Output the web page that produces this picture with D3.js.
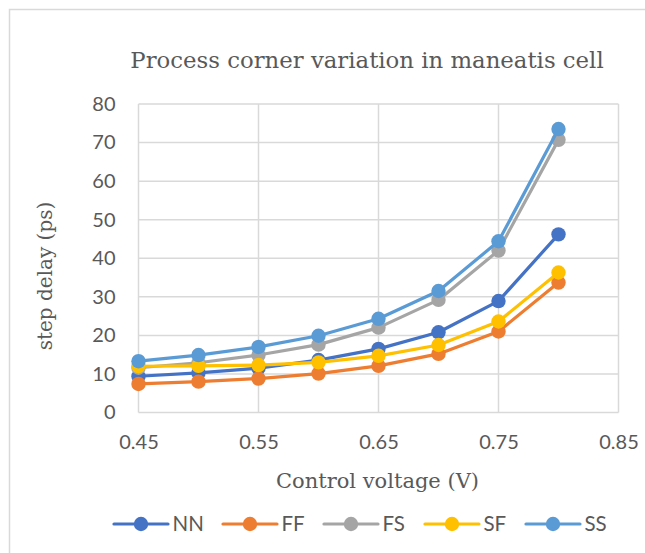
<!DOCTYPE html>
<html>
<head>
<meta charset="utf-8">
<script src="https://cdn.jsdelivr.net/npm/d3@7"></script>
<style>
  html, body { margin: 0; padding: 0; background: #fff; }
  svg { display: block; }
</style>
</head>
<body>
<svg id="chart" width="645" height="553"></svg>
<script>
// Control voltage sweep (V)
const voltages = [0.45, 0.5, 0.55, 0.6, 0.65, 0.7, 0.75, 0.8];

// Step delay (ps) per process corner
const seriesNames = ["NN", "FF", "FS", "SF", "SS"];
const nnDelay = [9.4, 10.3, 11.5, 13.6, 16.5, 20.8, 28.9, 46.2];
const ffDelay = [7.4, 8.0, 8.8, 10.1, 12.1, 15.2, 21.0, 33.7];
const fsDelay = [11.6, 12.9, 14.9, 17.6, 22.0, 29.2, 42.0, 70.7];
const sfDelay = [12.0, 12.1, 12.3, 13.0, 14.7, 17.5, 23.6, 36.3];
const ssDelay = [13.3, 14.9, 17.0, 19.9, 24.3, 31.5, 44.4, 73.5];
const seriesColors = ["#4472C4", "#ED7D31", "#A5A5A5", "#FFC000", "#5B9BD5"];

const xTicks = [0.45, 0.55, 0.65, 0.75, 0.85];
const yTicks = [0, 10, 20, 30, 40, 50, 60, 70, 80];

const series = [nnDelay, ffDelay, fsDelay, sfDelay, ssDelay].map((vals, i) => ({
  name: seriesNames[i],
  color: seriesColors[i],
  points: vals.map((v, j) => ({ x: voltages[j], y: v }))
}));

const svg = d3.select("#chart");
const W = 645, H = 553;
const plot = { left: 138.5, right: 618.5, top: 104, bottom: 412.5 };

const serif = "'DejaVu Serif', Georgia, serif";
const sans = "Lato, 'Open Sans', sans-serif";
const textColor = "#595959";

// Chart area frame
svg.append("rect")
  .attr("x", 9.5).attr("y", 9.5)
  .attr("width", W + 20).attr("height", H + 20)
  .attr("fill", "#fff")
  .attr("stroke", "#d9d9d9").attr("stroke-width", 1.5);

const x = d3.scaleLinear().domain([0.45, 0.85]).range([plot.left, plot.right]);
const y = d3.scaleLinear().domain([0, 80]).range([plot.bottom, plot.top]);

// Gridlines
const grid = svg.append("g");
grid.selectAll("line.h").data(yTicks).join("line")
  .attr("x1", plot.left).attr("x2", plot.right)
  .attr("y1", d => y(d)).attr("y2", d => y(d))
  .attr("stroke", "#d9d9d9").attr("stroke-width", 1.5);
grid.selectAll("line.v").data(xTicks).join("line")
  .attr("y1", plot.top).attr("y2", plot.bottom)
  .attr("x1", d => x(d)).attr("x2", d => x(d))
  .attr("stroke", "#d9d9d9").attr("stroke-width", 1.5);

// Axes (labels only; the gridlines act as the axis lines)
const yAxis = d3.axisLeft(y).tickValues(yTicks).tickSize(0).tickPadding(23);
const yG = svg.append("g").attr("transform", `translate(${plot.left},0)`).call(yAxis);
yG.select(".domain").remove();
yG.selectAll("text").attr("font-family", sans).attr("font-size", 20).attr("fill", textColor);

const xAxis = d3.axisBottom(x).tickValues(xTicks).tickSize(0).tickPadding(22)
  .tickFormat(d3.format(".2f"));
const xG = svg.append("g").attr("transform", `translate(0,${plot.bottom})`).call(xAxis);
xG.select(".domain").remove();
xG.selectAll("text").attr("font-family", sans).attr("font-size", 20).attr("fill", textColor);

// Lines and markers
const line = d3.line().x(d => x(d.x)).y(d => y(d.y));
const sg = svg.append("g").selectAll("g").data(series).join("g");
sg.append("path")
  .attr("d", d => line(d.points))
  .attr("fill", "none")
  .attr("stroke", d => d.color)
  .attr("stroke-width", 3.2)
  .attr("stroke-linejoin", "round");
sg.selectAll("circle").data(d => d.points.map(p => ({ ...p, color: d.color }))).join("circle")
  .attr("cx", d => x(d.x)).attr("cy", d => y(d.y))
  .attr("r", 7.2)
  .attr("fill", d => d.color);

// Title and axis titles
svg.append("text")
  .attr("x", 367).attr("y", 68)
  .attr("text-anchor", "middle")
  .attr("font-family", serif).attr("font-size", 22.8)
  .attr("fill", textColor)
  .text("Process corner variation in maneatis cell");

svg.append("text")
  .attr("x", 377.5).attr("y", 488)
  .attr("text-anchor", "middle")
  .attr("font-family", serif).attr("font-size", 21)
  .attr("fill", textColor)
  .text("Control voltage (V)");

svg.append("text")
  .attr("transform", "translate(52,276) rotate(-90)")
  .attr("text-anchor", "middle")
  .attr("font-family", serif).attr("font-size", 20)
  .attr("fill", textColor)
  .text("step delay (ps)");

// Legend
const legendX = [114, 223, 324, 425, 526];
const lg = svg.append("g").selectAll("g").data(series).join("g")
  .attr("transform", (d, i) => `translate(${legendX[i]},524)`);
lg.append("line")
  .attr("x1", 0).attr("x2", 54).attr("y1", 0).attr("y2", 0)
  .attr("stroke", d => d.color).attr("stroke-width", 3.2).attr("stroke-linecap", "round");
lg.append("circle").attr("cx", 27).attr("cy", 0).attr("r", 7.2).attr("fill", d => d.color);
lg.append("text")
  .attr("x", 58.5).attr("y", 0).attr("dy", "0.36em")
  .attr("font-family", sans).attr("font-size", 20.5).attr("fill", textColor)
  .text(d => d.name);
</script>
</body>
</html>
